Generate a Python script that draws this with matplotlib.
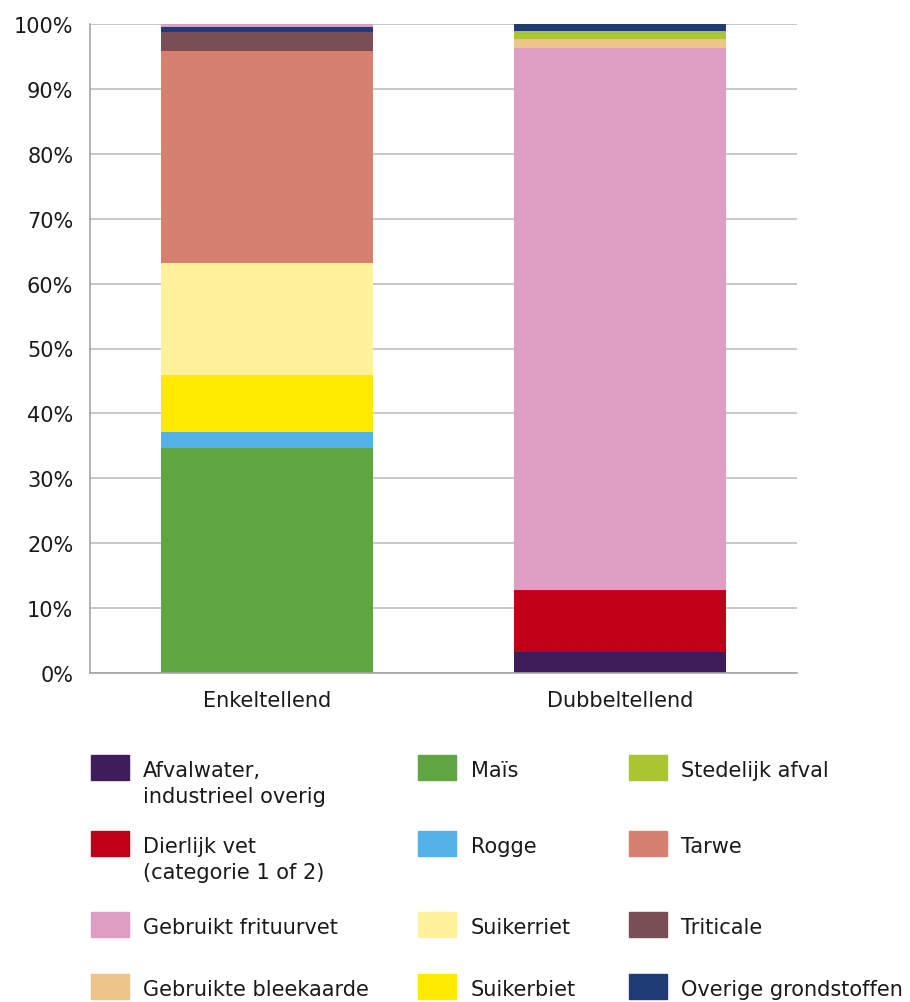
import matplotlib.pyplot as plt
from matplotlib.patches import Rectangle

# categories and values (% of total) per bar
bars = ['Enkeltellend', 'Dubbeltellend']

categories = ['Afvalwater,\nindustrieel overig', 'Dierlijk vet\n(categorie 1 of 2)',
              'Gebruikt frituurvet', 'Gebruikte bleekaarde',
              'Maïs', 'Rogge', 'Suikerriet', 'Suikerbiet',
              'Stedelijk afval', 'Tarwe', 'Triticale', 'Overige grondstoffen']
colors = ['#3F1D5B', '#C00018', '#DE9DC3', '#EDC48A',
          '#5EA641', '#54B2E8', '#FFF29A', '#FFE900',
          '#A9C531', '#D68070', '#7A4E55', '#1F3C78']

enkel = {'Maïs': 34.7, 'Rogge': 2.5, 'Suikerbiet': 8.7, 'Suikerriet': 17.3,
         'Tarwe': 32.6, 'Triticale': 3.0, 'Overige grondstoffen': 0.8,
         'Gebruikt frituurvet': 0.4}
dubbel = {'Afvalwater,\nindustrieel overig': 3.2, 'Dierlijk vet\n(categorie 1 of 2)': 9.6,
          'Gebruikt frituurvet': 83.5, 'Gebruikte bleekaarde': 1.4,
          'Stedelijk afval': 1.2, 'Overige grondstoffen': 1.1}

col = dict(zip(categories, colors))

plt.rcParams['font.family'] = 'DejaVu Sans'
plt.rcParams['font.size'] = 15

fig = plt.figure(figsize=(9.1, 10.03), dpi=100)
ax = fig.add_axes([90 / 910, 329 / 1003, 707 / 910, 649 / 1003])

for i, data in enumerate([enkel, dubbel]):
    bottom = 0
    for name, v in data.items():
        ax.bar(i, v, bottom=bottom, width=0.6, color=col[name], zorder=3)
        bottom += v

ax.set_xlim(-0.5, 1.5)
ax.set_ylim(0, 100)
ax.set_yticks(range(0, 101, 10))
ax.set_yticklabels([f'{t}%' for t in range(0, 101, 10)])
ax.set_xticks([0, 1])
ax.set_xticklabels(bars)
ax.tick_params(axis='y', length=0, pad=12, labelcolor='#1a1a1a')
ax.tick_params(axis='x', length=0, pad=12, labelcolor='#1a1a1a')
ax.grid(axis='y', color='#bfbfbf', linewidth=1.2, zorder=0)
for s in ['top', 'right']:
    ax.spines[s].set_visible(False)
for s in ['left', 'bottom']:
    ax.spines[s].set_color('#a6a6a6')
    ax.spines[s].set_linewidth(1.2)
    ax.spines[s].set_zorder(4)

# legend drawn by hand (3 columns, 4 rows)
col_x = [91, 418, 629]
text_x = [143, 471, 681]
row_bottom = [781, 857, 938, 1000]
for k, name in enumerate(categories):
    c, r = divmod(k, 4)
    x0, yb = col_x[c], row_bottom[r]
    fig.add_artist(Rectangle((x0 / 910, 1 - yb / 1003), 38 / 910, 25 / 1003,
                             transform=fig.transFigure, color=col[name]))
    fig.text(text_x[c] / 910, 1 - (yb - 20) / 1003, name, va='top', ha='left',
             linespacing=1.4, color='#1a1a1a')

fig.savefig('out.png', dpi=100)
